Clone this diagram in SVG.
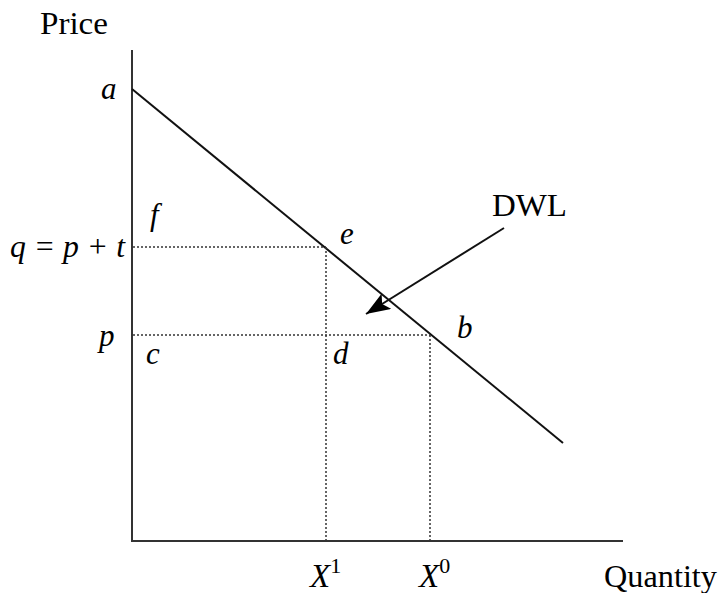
<svg xmlns="http://www.w3.org/2000/svg" width="721" height="593" viewBox="0 0 721 593">
<style>
text{font-family:"Liberation Serif","Times New Roman",serif;font-size:31px;fill:#000}
.i{font-style:italic}
.ax{stroke:#333;stroke-width:2;fill:none}
.ln{stroke:#111;stroke-width:2;fill:none}
.dot{stroke:#333;stroke-width:1.5;stroke-dasharray:2,2;fill:none}
.x{font-size:33px}
.sup{font-size:22px;font-style:normal}
</style>
<defs>
<marker id="ah" markerWidth="26" markerHeight="18" refX="24" refY="9" orient="auto" markerUnits="userSpaceOnUse">
<path d="M0,0 L24,9 L0,18 L5,9 Z" fill="#000"/>
</marker>
</defs>
<g id="axes">
<line class="ax" x1="132" y1="50" x2="132" y2="542"/>
<line class="ax" x1="131" y1="541" x2="623" y2="541"/>
</g>
<g id="connectors">
<line class="ln" x1="132" y1="89" x2="563" y2="443"/>
<line class="dot" x1="133" y1="247" x2="326" y2="247"/>
<line class="dot" x1="326" y1="247" x2="326" y2="540"/>
<line class="dot" x1="133" y1="335" x2="430" y2="335"/>
<line class="dot" x1="430" y1="335" x2="430" y2="540"/>
<line class="ln" x1="504" y1="228" x2="366" y2="314" marker-end="url(#ah)"/>
</g>
<g id="labels">
<text x="40" y="34" textLength="68" lengthAdjust="spacingAndGlyphs">Price</text>
<text class="i" x="101" y="99">a</text>
<text class="i" x="150" y="225">f</text>
<text class="i" x="10" y="257" textLength="115" lengthAdjust="spacingAndGlyphs">q = p + t</text>
<text class="i" x="340" y="244">e</text>
<text x="492" y="216" textLength="75" lengthAdjust="spacingAndGlyphs">DWL</text>
<text class="i" x="99" y="346">p</text>
<text class="i" x="146" y="364">c</text>
<text class="i" x="333" y="364">d</text>
<text class="i" x="457" y="338">b</text>
<text class="i x" x="310" y="587">X<tspan class="sup" dy="-14">1</tspan></text>
<text class="i x" x="419" y="587">X<tspan class="sup" dy="-14">0</tspan></text>
<text x="604" y="587" textLength="113" lengthAdjust="spacingAndGlyphs">Quantity</text>
</g>
</svg>
